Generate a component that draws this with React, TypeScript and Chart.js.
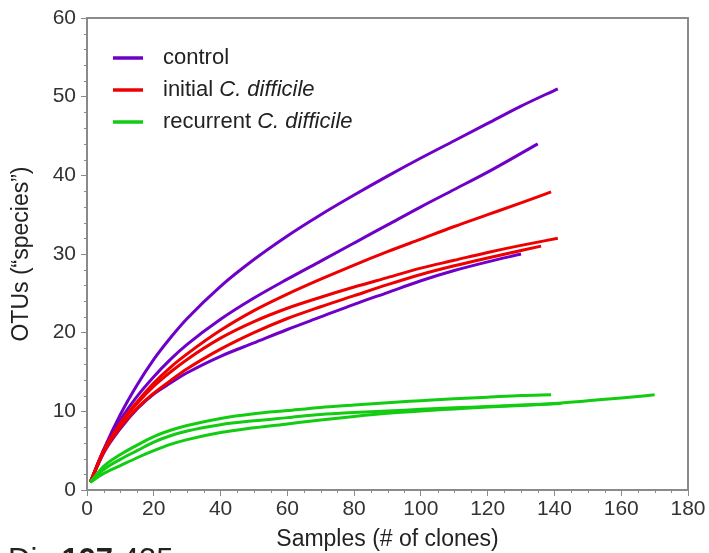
import React, { useEffect, useRef } from 'react';
import { Chart, registerables } from 'chart.js';

Chart.register(...registerables);

type Pt = [number, number];

// control (purple)
const control1: Pt[] = [[1, 1], [5, 5.15], [10, 9.6], [15, 13.35], [20, 16.6], [25, 19.35], [30, 21.8], [40, 25.9], [50, 29.3], [60, 32.3], [70, 35.0], [80, 37.5], [90, 39.9], [100, 42.2], [110, 44.4], [120, 46.6], [130, 48.8], [141, 51]];
const control2: Pt[] = [[1, 1], [5, 5.1], [10, 8.9], [15, 11.9], [20, 14.4], [25, 16.6], [30, 18.5], [40, 21.7], [50, 24.4], [60, 26.8], [70, 29.1], [80, 31.4], [90, 33.7], [100, 36.0], [110, 38.2], [120, 40.4], [135, 44]];
const control3: Pt[] = [[1, 1], [5, 4.7], [10, 7.8], [15, 10.3], [20, 12.2], [25, 13.6], [30, 14.9], [40, 17.0], [50, 18.7], [60, 20.4], [70, 22.0], [80, 23.6], [90, 25.1], [100, 26.6], [110, 27.9], [120, 29.0], [130, 30.0]];
// initial C. difficile (red)
const initial1: Pt[] = [[1, 1], [5, 5.0], [10, 8.5], [15, 11.2], [20, 13.6], [25, 15.6], [30, 17.3], [40, 20.3], [50, 22.8], [60, 24.9], [70, 26.8], [80, 28.6], [90, 30.3], [100, 31.9], [110, 33.5], [120, 35.0], [130, 36.5], [139, 37.9]];
const initial2: Pt[] = [[1, 1], [5, 5.0], [10, 8.4], [15, 11.0], [20, 13.2], [25, 15.0], [30, 16.6], [40, 19.3], [50, 21.4], [60, 23.1], [70, 24.5], [80, 25.8], [90, 27.0], [100, 28.2], [110, 29.2], [120, 30.2], [130, 31.1], [141, 32.0]];
const initial3: Pt[] = [[1, 1], [5, 4.8], [10, 8.0], [15, 10.4], [20, 12.3], [25, 13.9], [30, 15.4], [40, 17.9], [50, 20.0], [60, 21.8], [70, 23.3], [80, 24.7], [90, 26.1], [100, 27.4], [110, 28.5], [120, 29.5], [136, 31.0]];
// recurrent C. difficile (green)
const recurrent1: Pt[] = [[1, 1], [5, 3.0], [10, 4.5], [15, 5.7], [20, 6.8], [25, 7.6], [30, 8.2], [40, 9.1], [50, 9.7], [60, 10.1], [70, 10.5], [80, 10.8], [90, 11.1], [100, 11.35], [110, 11.6], [120, 11.8], [130, 12.0], [139, 12.1]];
const recurrent2: Pt[] = [[1, 1], [5, 2.6], [10, 3.9], [15, 5.0], [20, 6.1], [25, 6.9], [30, 7.5], [40, 8.3], [50, 8.8], [60, 9.2], [70, 9.6], [80, 9.85], [90, 10.05], [100, 10.25], [110, 10.45], [120, 10.6], [130, 10.8], [142, 11.0]];
const recurrent3: Pt[] = [[1, 1], [5, 2.1], [10, 3.1], [15, 4.1], [20, 5.0], [25, 5.8], [30, 6.4], [40, 7.3], [50, 7.9], [60, 8.4], [70, 8.9], [80, 9.35], [90, 9.75], [100, 10.05], [110, 10.3], [120, 10.55], [130, 10.75], [140, 11.0], [150, 11.35], [160, 11.7], [170, 12.1]];

const xMin = 0, xMax = 180, xStep = 20, xMinorStep = 5;
const yMin = 0, yMax = 60, yStep = 10, yMinorStep = 2;

const PURPLE = '#6E00C8';
const RED = '#EE0000';
const GREEN = '#12CC12';
const AXIS = '#8a8a8a';
const FONT = '"Liberation Sans", Arial, Helvetica, sans-serif';

const legendItems = [
  { plain: 'control', italic: '', color: PURPLE },
  { plain: 'initial ', italic: 'C. difficile', color: RED },
  { plain: 'recurrent ', italic: 'C. difficile', color: GREEN },
];

const mk = (pts: Pt[], color: string) => ({
  data: pts.map(([x, y]) => ({ x, y })),
  borderColor: color,
  backgroundColor: color,
  borderWidth: 3,
  pointRadius: 0,
  fill: false,
  cubicInterpolationMode: 'monotone' as const,
});

const framePlugin = {
  id: 'frameAndLegend',
  afterDraw(chart: any) {
    const { ctx, chartArea } = chart;
    const xs = chart.scales.x;
    const ys = chart.scales.y;
    ctx.save();
    ctx.strokeStyle = AXIS;
    ctx.lineWidth = 2;
    ctx.beginPath();
    ctx.moveTo(chartArea.left, chartArea.top);
    ctx.lineTo(chartArea.right, chartArea.top);
    ctx.lineTo(chartArea.right, chartArea.bottom);
    ctx.stroke();
    ctx.lineWidth = 1;
    ctx.beginPath();
    for (let v = xMin; v <= xMax; v += xMinorStep) {
      if (v % xStep === 0) continue;
      const px = Math.round(xs.getPixelForValue(v)) + 0.5;
      ctx.moveTo(px, chartArea.bottom);
      ctx.lineTo(px, chartArea.bottom + 3);
    }
    for (let v = yMin; v <= yMax; v += yMinorStep) {
      if (v % yStep === 0) continue;
      const py = Math.round(ys.getPixelForValue(v)) + 0.5;
      ctx.moveTo(chartArea.left - 3, py);
      ctx.lineTo(chartArea.left, py);
    }
    ctx.stroke();

    // legend
    const lx0 = 113, lx1 = 143, tx = 163;
    const rows = [58, 90, 122];
    legendItems.forEach((it, i) => {
      const y = rows[i];
      ctx.strokeStyle = it.color;
      ctx.lineWidth = 3.5;
      ctx.beginPath();
      ctx.moveTo(lx0, y);
      ctx.lineTo(lx1, y);
      ctx.stroke();
      ctx.fillStyle = '#222';
      ctx.textBaseline = 'middle';
      ctx.textAlign = 'left';
      ctx.font = `22px ${FONT}`;
      ctx.fillText(it.plain, tx, y);
      const w = ctx.measureText(it.plain).width;
      if (it.italic) {
        ctx.font = `italic 22px ${FONT}`;
        ctx.fillText(it.italic, tx + w, y);
      }
    });
    ctx.restore();
  },
};

export default function App() {
  const ref = useRef<HTMLCanvasElement | null>(null);
  useEffect(() => {
    document.body.style.margin = '0';
    const canvas = ref.current;
    if (!canvas) return;
    const chart = new Chart(canvas, {
      type: 'line',
      data: {
        datasets: [
          mk(recurrent1, GREEN), mk(recurrent2, GREEN), mk(recurrent3, GREEN),
          mk(initial1, RED), mk(initial2, RED), mk(initial3, RED),
          mk(control1, PURPLE), mk(control2, PURPLE), mk(control3, PURPLE),
        ],
      },
      options: {
        responsive: false,
        animation: false,
        events: [],
        layout: { padding: { top: 18, right: 21, left: 0, bottom: 0 } },
        plugins: { legend: { display: false }, tooltip: { enabled: false } },
        scales: {
          x: {
            type: 'linear',
            min: xMin,
            max: xMax,
            afterFit: (s: any) => { s.height = 63; },
            ticks: { stepSize: xStep, color: '#333', font: { family: FONT, size: 21 }, padding: 1, maxRotation: 0 },
            grid: { drawOnChartArea: false, drawTicks: true, tickLength: 6, color: AXIS, tickWidth: 1 },
            border: { display: true, color: AXIS, width: 2 },
            title: { display: true, text: 'Samples (# of clones)', color: '#222', font: { family: FONT, size: 23 }, padding: { top: 0, bottom: 0 } },
          },
          y: {
            type: 'linear',
            min: yMin,
            max: yMax,
            afterFit: (s: any) => { s.width = 87; },
            ticks: { stepSize: yStep, color: '#333', font: { family: FONT, size: 21 }, padding: 5 },
            grid: { drawOnChartArea: false, drawTicks: true, tickLength: 6, color: AXIS, tickWidth: 1 },
            border: { display: true, color: AXIS, width: 2 },
            title: { display: true, text: 'OTUs (“species”)', color: '#222', font: { family: FONT, size: 23 }, padding: { top: 8, bottom: 0 } },
          },
        },
      },
      plugins: [framePlugin],
    });
    return () => chart.destroy();
  }, []);

  return (
    <div style={{ position: 'relative', width: 709, height: 553, overflow: 'hidden', background: '#fff' }}>
      <canvas ref={ref} width={709} height={553} style={{ display: 'block' }} />
      <div
        style={{
          position: 'absolute',
          left: 8,
          top: 542,
          fontFamily: FONT,
          fontSize: 31,
          color: '#222',
          whiteSpace: 'nowrap',
          lineHeight: 'normal',
        }}
      >
        Dis <b>197</b>:435
      </div>
    </div>
  );
}
